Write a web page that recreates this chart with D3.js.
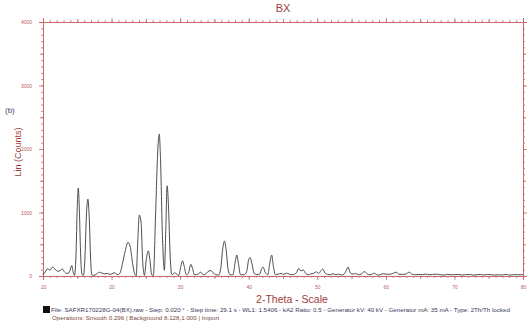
<!DOCTYPE html>
<html><head><meta charset="utf-8">
<script src="https://cdn.jsdelivr.net/npm/d3@7"></script>
<style>body{margin:0;background:#fff;}svg{display:block;font-family:"Liberation Sans",Arial,sans-serif;}</style>
</head><body>
<script>
const twoTheta = [10.0,10.3,10.7,11.0,11.4,11.8,12.2,12.5,12.8,13.1,13.5,13.8,14.0,14.2,14.4,14.6,14.8,15.0,15.15,15.3,15.5,15.7,15.9,16.1,16.35,16.55,16.75,16.95,17.1,17.4,17.8,18.2,18.6,19.0,19.4,19.8,20.2,20.5,20.8,21.2,21.6,22.0,22.4,22.7,23.0,23.3,23.6,23.8,24.05,24.3,24.55,24.8,25.05,25.35,25.6,25.85,26.1,26.4,26.75,26.95,27.15,27.4,27.7,27.9,28.1,28.3,28.55,28.8,29.2,29.5,29.8,30.1,30.35,30.6,30.9,31.2,31.55,31.8,32.1,32.6,33.0,33.4,33.8,34.2,34.5,34.8,35.2,35.6,35.9,36.2,36.45,36.7,37.0,37.3,37.7,38.0,38.25,38.5,38.8,39.3,39.7,40.0,40.2,40.45,40.8,41.2,41.6,41.9,42.1,42.4,42.8,43.0,43.35,43.6,43.9,44.3,44.7,45.1,45.5,45.9,46.3,46.7,47.0,47.3,47.6,47.95,48.3,48.7,49.0,49.4,49.9,50.2,50.5,50.8,51.1,51.5,51.9,52.3,52.7,53.1,53.5,53.9,54.2,54.5,54.8,55.2,55.6,56.0,56.4,56.9,57.3,57.7,58.0,58.3,58.6,59.0,59.5,60.0,60.5,61.0,61.5,61.9,62.4,62.9,63.4,63.8,64.3,64.8,65.3,65.8,66.3,66.8,67.4,67.9,68.5,69.0,69.5,70.0,70.6,71.1,71.6,72.2,72.7,73.3,73.8,74.3,74.8,75.3,75.9,76.4,76.9,77.5,78.0,78.6,79.2,80.0];
const counts = [20,60,115,90,140,100,75,85,110,70,40,50,110,165,60,10,300,1100,1385,1050,300,20,10,250,1000,1210,900,250,20,10,30,60,45,35,40,25,45,50,20,40,200,400,530,470,250,60,5,500,960,850,200,10,250,395,250,20,10,900,2000,2235,1800,700,90,700,1420,1100,300,20,50,30,10,150,240,150,20,40,185,120,20,30,60,20,40,80,85,50,20,15,100,420,550,420,100,20,20,200,330,200,20,20,70,260,290,200,40,20,30,120,140,60,20,150,330,150,20,30,40,25,45,30,20,30,60,120,80,95,40,20,30,40,65,40,80,110,50,25,20,35,20,30,15,30,80,140,50,30,40,20,30,70,30,20,30,45,25,15,35,30,25,40,60,30,25,30,60,30,20,25,20,30,20,25,30,20,15,25,20,20,25,15,20,25,15,20,25,15,25,20,15,20,15,25,15,20,20,20];
const xMajorTicks = [10,20,30,40,50,60,70,80];
const yMajorTicks = [0,1000,2000,3000,4000];
const yTickLabels = ["0","1000","2000","3000","4000"];
const titleText = "BX";
const xTitle = "2-Theta - Scale";
const yTitle = "Lin (Counts)";
const panelLabel = "(b)";
const infoLine1 = "File: SAFXR170228G-04(BX).raw - Step: 0.020 \u00b0 - Step time: 29.1 s - WL1: 1.5406 - kA2 Ratio: 0.5 - Generator kV: 40 kV - Generator mA: 35 mA - Type: 2Th/Th locked";
const infoLine2 = "Operations: Smooth 0.296 | Background 8.128,1.000 | Import";

const W = 532, H = 327;
const m = {l:43, r:9, t:22, b:51};
const svg = d3.select("body").append("svg").attr("width", W).attr("height", H);
const x = d3.scaleLinear().domain([10,80]).range([m.l, W - m.r]);
const y = d3.scaleLinear().domain([0,4000]).range([H - m.b, m.t]);
const axisCol = "#c86868";
const txtCol = "#a03a3a";

function styleAxis(g){
  g.selectAll(".domain").attr("stroke", axisCol).attr("stroke-width", 1);
  g.selectAll(".tick line").attr("stroke", axisCol).attr("stroke-width", 0.8);
  g.selectAll("text").attr("fill", "#b85a5a").attr("font-size", 5).attr("font-family", "Liberation Sans, Arial, sans-serif");
}
const xMinor = d3.range(10, 81, 1);
const xMid = d3.range(15, 80, 10);
const yMinor = d3.range(0, 4001, 100);
const yMid = d3.range(500, 4000, 1000);

// bottom
[[xMinor,2],[xMid,3]].forEach(([v,s]) => {
  svg.append("g").attr("transform",`translate(0,${y(0)})`)
    .call(d3.axisBottom(x).tickValues(v).tickSize(s).tickFormat("")).call(styleAxis);
});
svg.append("g").attr("transform",`translate(0,${y(0)})`)
  .call(d3.axisBottom(x).tickValues(xMajorTicks).tickSize(4).tickPadding(5).tickFormat(d3.format("d"))).call(styleAxis);
// top
[[xMinor,2],[xMid,3],[xMajorTicks,4]].forEach(([v,s]) => {
  svg.append("g").attr("transform",`translate(0,${y(4000)})`)
    .call(d3.axisTop(x).tickValues(v).tickSize(s).tickFormat("")).call(styleAxis);
});
// left
[[yMinor,2],[yMid,3]].forEach(([v,s]) => {
  svg.append("g").attr("transform",`translate(${x(10)},0)`)
    .call(d3.axisLeft(y).tickValues(v).tickSize(s).tickFormat("")).call(styleAxis);
});
svg.append("g").attr("transform",`translate(${x(10)},0)`)
  .call(d3.axisLeft(y).tickValues(yMajorTicks).tickSize(4).tickPadding(7).tickFormat((d,i)=>yTickLabels[i])).call(styleAxis);
// right
[[yMinor,2],[yMid,3],[yMajorTicks,4]].forEach(([v,s]) => {
  svg.append("g").attr("transform",`translate(${x(80)},0)`)
    .call(d3.axisRight(y).tickValues(v).tickSize(s).tickFormat("")).call(styleAxis);
});

// data line
const data = twoTheta.map((t,i)=>({t, c:counts[i]}));
svg.append("path").datum(data)
  .attr("fill","none").attr("stroke","#3a3a3a").attr("stroke-width",0.9)
  .attr("d", d3.line().x(d=>x(d.t)).y(d=>y(d.c)).curve(d3.curveMonotoneX));

// texts
svg.append("text").attr("x", 283).attr("y", 12).attr("text-anchor","middle")
  .attr("fill", txtCol).attr("font-size", 11).text(titleText);
svg.append("text").attr("x", 5).attr("y", 113).attr("fill","#3c4660").attr("font-size", 8).text(panelLabel);
svg.append("text").attr("transform","translate(21,152) rotate(-90)").attr("text-anchor","middle")
  .attr("fill", txtCol).attr("font-size", 9).text(yTitle);
svg.append("text").attr("x", 292).attr("y", 303).attr("text-anchor","middle")
  .attr("fill", txtCol).attr("font-size", 10.5).text(xTitle);
svg.append("rect").attr("x",43).attr("y",306).attr("width",7).attr("height",7).attr("fill","#111");
svg.append("text").attr("x", 51).attr("y", 312).attr("fill","#3a3a55").attr("font-size", 6.2).text(infoLine1);
svg.append("text").attr("x", 52).attr("y", 319.5).attr("fill","#7a4a3a").attr("font-size", 6.2).text(infoLine2);
</script>
</body></html>
